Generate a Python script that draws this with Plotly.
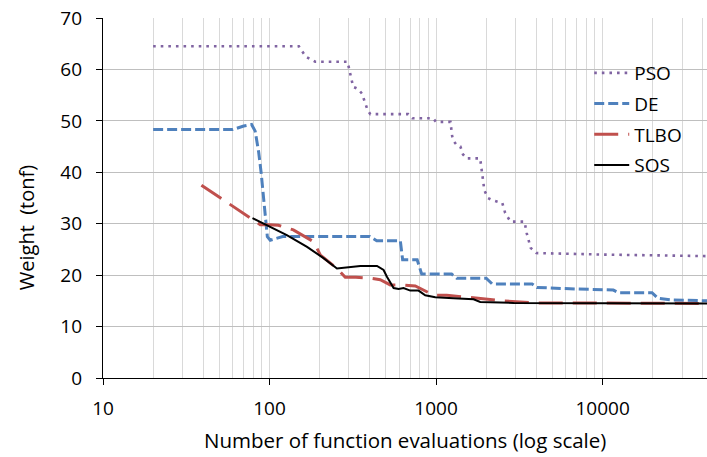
import plotly.graph_objects as go

# ---------------- data ----------------
pso_x = [20, 150, 165, 188, 294, 300, 305, 313, 318, 340, 359, 367, 376, 388, 403, 680, 720, 960, 1000,
         1220, 1250, 1280, 1330, 1400, 1450, 1520, 1840, 1880, 1950, 2050, 2170, 2500, 2600, 2800, 3400,
         3500, 3700, 4000, 10000, 42400]
pso_y = [64.5, 64.5, 62.5, 61.5, 61.5, 60.2, 59.6, 58.0, 56.6, 56.2, 55.3, 54.4, 53.4, 52.1, 51.3, 51.3,
         50.5, 50.5, 49.8, 49.8, 47.0, 46.0, 45.3, 45.0, 43.5, 42.7, 42.7, 40.0, 36.5, 35.0, 34.6, 34.0,
         32.1, 30.4, 30.4, 28.2, 25.3, 24.3, 24.0, 23.7]

de_x = [20, 60, 70, 78, 82, 86, 89, 92, 95, 97, 101, 110, 120, 400, 440, 610, 630, 770, 820, 1240, 1330,
        2000, 2170, 3770, 4040, 7000, 11600, 12500, 19800, 21500, 25500, 42400]
de_y = [48.3, 48.3, 49.0, 49.3, 48.0, 44.0, 40.0, 35.0, 30.0, 27.5, 26.8, 27.2, 27.5, 27.5, 26.7, 26.7,
        23.0, 23.0, 20.2, 20.2, 19.4, 19.4, 18.3, 18.3, 17.6, 17.3, 17.1, 16.6, 16.6, 15.5, 15.2, 15.0]

tlbo_x = [39, 60, 88, 100, 113, 139, 184, 202, 254, 285, 330, 403, 462, 531, 624, 750, 967, 1160, 1600,
          1840, 2540, 4000, 42400]
tlbo_y = [37.5, 33.5, 29.8, 29.8, 29.7, 28.8, 26.5, 23.9, 21.3, 19.6, 19.6, 19.4, 19.1, 18.1, 18.1, 17.9,
          16.1, 16.1, 15.7, 15.4, 15.0, 14.6, 14.5]

sos_x = [79, 96, 127, 168, 211, 254, 291, 351, 442, 484, 507, 556, 596, 638, 700, 785, 861, 989, 1274,
         1680, 1842, 2924, 42400]
sos_y = [31.1, 29.8, 27.8, 25.5, 23.3, 21.3, 21.5, 21.8, 21.8, 21.0, 19.7, 17.5, 17.3, 17.5, 17.0, 17.0,
         16.1, 15.7, 15.5, 15.3, 14.8, 14.6, 14.5]

series_names = ["PSO", "DE", "TLBO", "SOS"]
x_title = "Number of function evaluations (log scale)"
y_title = "Weight\u00a0 (tonf)"
y_ticks = [0, 10, 20, 30, 40, 50, 60, 70]
x_ticks = [10, 100, 1000, 10000]

FONT = "Open Sans"

fig = go.Figure()
styles = [
    (pso_x, pso_y, "#8064A2", 2.6, "2.6px,5px"),
    (de_x, de_y, "#4F81BD", 3, "10px,4px"),
    (tlbo_x, tlbo_y, "#C0504D", 3, "24px,10px"),
    (sos_x, sos_y, "#000000", 2, "solid"),
]
for name, (xs, ys, col, w, dash) in zip(series_names, styles):
    fig.add_trace(go.Scatter(x=xs, y=ys, mode="lines", name=name, legendgroup=name,
                             line=dict(color=col, width=w, dash=dash)))

fig.update_layout(
    width=707, height=457,
    margin=dict(l=103, r=0, t=18, b=79),
    plot_bgcolor="white", paper_bgcolor="white",
    font=dict(family=FONT, size=19, color="#000000"),
    showlegend=True,
    legend=dict(x=0.805, y=0.9, xanchor="left", yanchor="top", bgcolor="rgba(0,0,0,0)",
                font=dict(size=19), tracegroupgap=3, itemwidth=35),
    xaxis=dict(type="log", range=[1, 4.627], tickvals=x_ticks, ticktext=[str(v) for v in x_ticks],
               showline=True, linecolor="#000000", linewidth=1.3,
               ticks="outside", ticklen=6, tickcolor="#000000", ticklabelstandoff=7,
               showgrid=True, gridcolor="#D9D9D9", gridwidth=1,
               minor=dict(dtick="D1", showgrid=True, gridcolor="#D9D9D9", gridwidth=1, ticks=""),
               zeroline=False, tickfont=dict(size=19)),
    yaxis=dict(range=[0, 70], tickvals=y_ticks, showline=True, linecolor="#000000", linewidth=1.3,
               ticks="outside", ticklen=6, tickcolor="#000000", ticklabelstandoff=10,
               showgrid=True, gridcolor="#BFBFBF", gridwidth=1.3, zeroline=False,
               tickfont=dict(size=19)),
    annotations=[
        dict(text=x_title, xref="paper", yref="paper", x=0.5, y=-0.172, xanchor="center",
             yanchor="middle", showarrow=False, font=dict(size=20.5)),
        dict(text=y_title, xref="paper", yref="paper", x=-0.1255, y=0.4167, xanchor="center",
             yanchor="middle", showarrow=False, textangle=-90, font=dict(size=20)),
    ],
)

fig.write_html("out.html", config={"displayModeBar": False},
               post_script="document.body.style.margin='0px';")
